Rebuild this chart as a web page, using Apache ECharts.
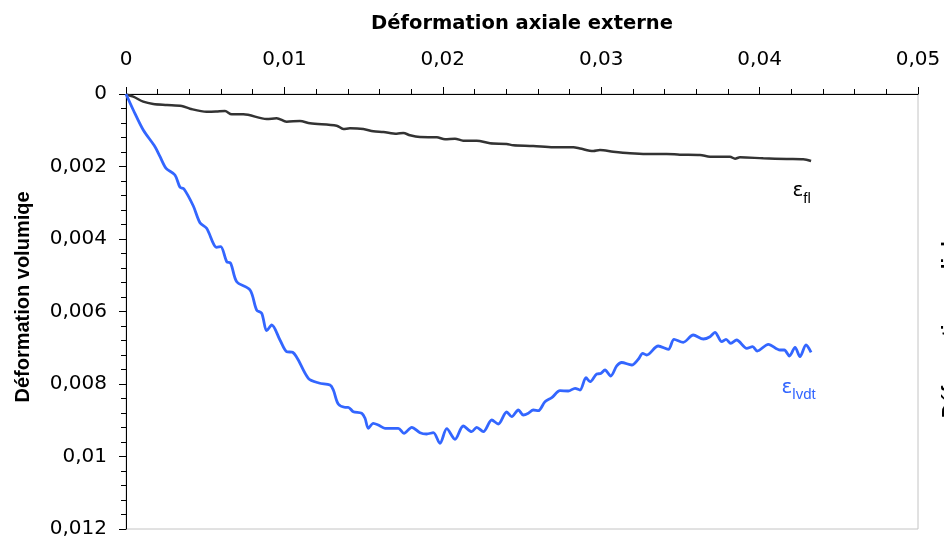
<!DOCTYPE html>
<html>
<head>
<meta charset="utf-8">
<script src="https://cdn.jsdelivr.net/npm/echarts@6/dist/echarts.min.js"></script>
<style>
html,body{margin:0;padding:0;background:#fff;}
#chart{width:944px;height:540px;}
</style>
</head>
<body>
<div id="chart"></div>
<script>
// ---- Data ----
const xTitle = 'Déformation axiale externe';
const yTitle = 'Déformation volumiqe';
const rightTitle = 'Déformation radiale';
const xTickLabels = ['0', '0,01', '0,02', '0,03', '0,04', '0,05'];
const yTickLabels = ['0', '0,002', '0,004', '0,006', '0,008', '0,01', '0,012'];

// ε_fl (black curve)
const flX = [0, 0.00046, 0.00109, 0.00172, 0.00259, 0.00352, 0.00404, 0.00509, 0.00568, 0.00625,
  0.00667, 0.00741, 0.00888, 0.00951, 0.01014, 0.01098, 0.01162, 0.01330, 0.01372, 0.01414,
  0.01498, 0.01562, 0.01625, 0.01709, 0.01751, 0.01793, 0.01856, 0.01962, 0.02014, 0.02077,
  0.02129, 0.02214, 0.02298, 0.02403, 0.02445, 0.02571, 0.02698, 0.02824, 0.02866, 0.02950,
  0.02992, 0.03076, 0.03182, 0.03287, 0.03413, 0.03497, 0.03624, 0.03687, 0.03813, 0.03845,
  0.03876, 0.04023, 0.04171, 0.04276, 0.04325];
const flY = [0.000014, 0.000074, 0.000212, 0.000276, 0.000303, 0.000331, 0.000406, 0.000488, 0.000483, 0.000469,
  0.000560, 0.000560, 0.000690, 0.000670, 0.000764, 0.000745, 0.000808, 0.000874, 0.000966, 0.000946,
  0.000966, 0.001029, 0.001048, 0.001095, 0.001076, 0.001139, 0.001186, 0.001194, 0.001250, 0.001233,
  0.001288, 0.001288, 0.001360, 0.001379, 0.001415, 0.001434, 0.001470, 0.001470, 0.001503, 0.001572,
  0.001545, 0.001592, 0.001636, 0.001655, 0.001655, 0.001674, 0.001683, 0.001730, 0.001730, 0.001785,
  0.001746, 0.001774, 0.001793, 0.001801, 0.001848];

// ε_lvdt (blue curve)
const lvdtX = [0, 0.00046, 0.00109, 0.00183, 0.00215, 0.00253, 0.00309, 0.00341, 0.00366, 0.00425,
  0.00467, 0.00509, 0.00573, 0.00598, 0.00636, 0.00661, 0.00699, 0.00783, 0.00825, 0.00857,
  0.00888, 0.00920, 0.00972, 0.01015, 0.01052, 0.01151, 0.01218, 0.01288, 0.01309, 0.01340,
  0.01383, 0.01403, 0.01435, 0.01488, 0.01509, 0.01530, 0.01561, 0.01593, 0.01635, 0.01677,
  0.01719, 0.01755, 0.01804, 0.01856, 0.01898, 0.01940, 0.01982, 0.02025, 0.02077, 0.02129,
  0.02182, 0.02214, 0.02256, 0.02309, 0.02350, 0.02403, 0.02435, 0.02477, 0.02508, 0.02540,
  0.02571, 0.02603, 0.02645, 0.02688, 0.02740, 0.02792, 0.02835, 0.02866, 0.02904, 0.02929,
  0.02972, 0.02997, 0.03024, 0.03060, 0.03098, 0.03129, 0.03193, 0.03234, 0.03262, 0.03287,
  0.03360, 0.03424, 0.03460, 0.03518, 0.03581, 0.03645, 0.03687, 0.03718, 0.03761, 0.03788,
  0.03818, 0.03855, 0.03919, 0.03956, 0.03985, 0.04055, 0.04129, 0.04156, 0.04188, 0.04224,
  0.04255, 0.04293, 0.04325];
const lvdtY = [0, 0.000441, 0.000993, 0.001454, 0.001730, 0.002050, 0.002234, 0.002574, 0.002621, 0.003090,
  0.003550, 0.003705, 0.004229, 0.004212, 0.004626, 0.004670, 0.005178, 0.005407, 0.005959, 0.006050,
  0.006530, 0.006372, 0.006786, 0.007109, 0.007126, 0.007843, 0.007972, 0.008028, 0.008166, 0.008552,
  0.008643, 0.008643, 0.008764, 0.008808, 0.008946, 0.009222, 0.009084, 0.009131, 0.009222, 0.009222,
  0.009222, 0.009360, 0.009194, 0.009343, 0.009379, 0.009343, 0.009636, 0.009233, 0.009526, 0.009159,
  0.009316, 0.009194, 0.009316, 0.008993, 0.009103, 0.008772, 0.008902, 0.008717, 0.008855, 0.008808,
  0.008717, 0.008737, 0.008488, 0.008378, 0.008185, 0.008193, 0.008119, 0.008166, 0.007826, 0.007937,
  0.007724, 0.007710, 0.007614, 0.007779, 0.007503, 0.007407, 0.007476, 0.007319, 0.007153, 0.007200,
  0.006952, 0.007043, 0.006767, 0.006850, 0.006648, 0.006759, 0.006695, 0.006574, 0.006833, 0.006767,
  0.006877, 0.006786, 0.007015, 0.006971, 0.007090, 0.006905, 0.007062, 0.007062, 0.007228, 0.006988,
  0.007247, 0.006924, 0.007126];

// label anchor positions (data coordinates)
const flLabelAt = [0.04265, 0.00262];
const lvdtLabelAt = [0.04246, 0.00805];

const pairs = (xs, ys) => xs.map((x, i) => [x, ys[i]]);

const labelFont = 'DejaVu Sans';
const chart = echarts.init(document.getElementById('chart'), null, {renderer: 'canvas'});

function curveLabel(at, main, sub, color) {
  return {
    symbol: 'circle',
    symbolSize: 0,
    silent: true,
    itemStyle: {color: 'rgba(0,0,0,0)'},
    data: [{coord: at}],
    label: {
      show: true,
      position: 'inside',
      formatter: '{e|' + main + '}{s|' + sub + '}',
      rich: {
        e: {fontFamily: 'DejaVu Sans', fontSize: 20, color: color, verticalAlign: 'bottom', lineHeight: 24},
        s: {fontFamily: 'Liberation Sans', fontSize: 15, color: color, verticalAlign: 'bottom', lineHeight: 18, padding: [0, 0, -5, 0]}
      }
    }
  };
}

chart.setOption({
  animation: false,
  backgroundColor: '#fff',
  grid: {
    left: 126, right: 26, top: 94, bottom: 11,
    show: true, borderColor: '#c4c4c4', borderWidth: 1, backgroundColor: 'transparent'
  },
  xAxis: {
    type: 'value',
    position: 'top',
    min: 0, max: 0.05, interval: 0.01,
    name: xTitle,
    nameLocation: 'middle',
    nameGap: 60,
    nameTextStyle: {fontFamily: labelFont, fontWeight: 'bold', fontSize: 19.5, color: '#000'},
    axisLine: {show: true, onZero: false, lineStyle: {color: '#000', width: 1}},
    axisTick: {show: true, inside: false, length: 7, lineStyle: {color: '#000'}},
    minorTick: {show: true, splitNumber: 5, length: 5, lineStyle: {color: '#000'}},
    splitLine: {show: false},
    axisLabel: {
      margin: 24,
      fontFamily: labelFont, fontSize: 20, color: '#000',
      formatter: v => xTickLabels[Math.round(v / 0.01)]
    }
  },
  yAxis: {
    type: 'value',
    inverse: true,
    min: 0, max: 0.012, interval: 0.002,
    axisLine: {show: true, onZero: false, lineStyle: {color: '#000', width: 1}},
    axisTick: {show: true, inside: false, length: 7, lineStyle: {color: '#000'}},
    minorTick: {show: true, splitNumber: 5, length: 5, lineStyle: {color: '#000'}},
    splitLine: {show: false},
    axisLabel: {
      margin: 19,
      fontFamily: labelFont, fontSize: 20, color: '#000',
      formatter: v => yTickLabels[Math.round(v / 0.002)]
    }
  },
  graphic: [
    {
      type: 'text', x: 23, y: 297, rotation: Math.PI / 2,
      style: {text: yTitle, font: 'bold 20px "Liberation Sans"', fill: '#000', align: 'center', verticalAlign: 'middle'}
    },
    {
      type: 'text', x: 950, y: 418, rotation: Math.PI / 2,
      style: {text: rightTitle, font: 'bold 20px "Liberation Sans"', fill: '#000', align: 'left', verticalAlign: 'middle'}
    }
  ],
  series: [
    {
      type: 'line',
      name: 'fl',
      data: pairs(flX, flY),
      showSymbol: false,
      smooth: 0.3,
      lineStyle: {color: '#333333', width: 2.5},
      markPoint: curveLabel(flLabelAt, 'ε', 'fl', '#000')
    },
    {
      type: 'line',
      name: 'lvdt',
      data: pairs(lvdtX, lvdtY),
      showSymbol: false,
      smooth: 0.3,
      lineStyle: {color: '#3366ff', width: 2.8},
      markPoint: curveLabel(lvdtLabelAt, 'ε', 'lvdt', '#3366ff')
    }
  ]
});
</script>
</body>
</html>
